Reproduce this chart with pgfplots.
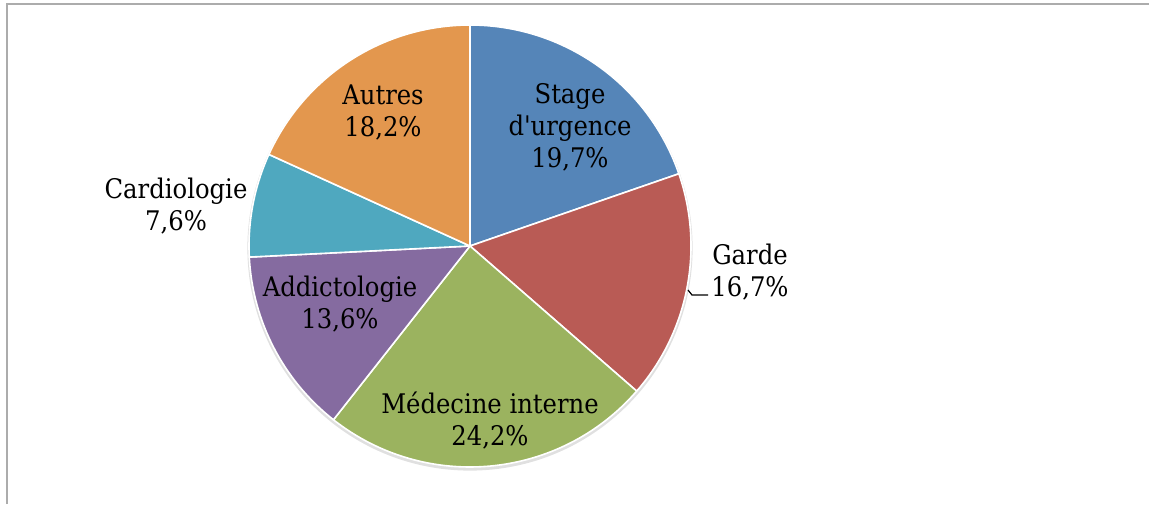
\documentclass[border=0pt]{standalone}
\usepackage{pgfplots}
\pgfplotsset{compat=1.18}
\usepackage{pgfplotstable}
\usepackage{fontspec}
\setmainfont{DejaVu Serif Condensed}
\definecolor{cA}{HTML}{5585B8}
\definecolor{cB}{HTML}{B95B55}
\definecolor{cC}{HTML}{9BB35F}
\definecolor{cD}{HTML}{856BA0}
\definecolor{cE}{HTML}{4FA8BF}
\definecolor{cF}{HTML}{E3974E}
\pgfplotstableread{
pct col
19.7 cA
16.7 cB
24.2 cC
13.6 cD
7.6 cE
18.2 cF
}\piedata
\begin{document}
\begin{tikzpicture}
\begin{axis}[
  hide axis, scale only axis,
  width=574.5pt, height=252pt,
  xmin=0, xmax=1149, ymin=0, ymax=504,
  clip=false,
]
\draw[gray!65, line width=1pt] (axis cs:6.5,0) -- (axis cs:6.5,499.5) -- (axis cs:1149,499.5);
\fill[black, opacity=0.12] (axis cs:470,256) circle[radius=111.3pt];
\def\acc{90}
\pgfplotsforeachungrouped \i in {0,...,5}{%
  \pgfplotstablegetelem{\i}{pct}\of\piedata
  \let\p\pgfplotsretval
  \pgfplotstablegetelem{\i}{col}\of\piedata
  \let\c\pgfplotsretval
  \pgfmathsetmacro\endang{\acc-3.6*\p}%
  \edef\cmd{\noexpand\fill[\c, draw=white, line width=0.8pt, line join=round] (axis cs:470,258) -- ++(\acc:110.5pt) arc[start angle=\acc, end angle=\endang, radius=110.5pt] -- cycle;}%
  \cmd
  \let\acc\endang
}
\draw[black, line width=0.6pt] (axis cs:688,214) -- (axis cs:692,209) -- (axis cs:708,209);
\tikzset{lab/.style={align=center, font=\fontsize{13.5}{16}\selectfont, inner sep=0pt}}
\node[lab] at (axis cs:570,377) {Stage\\d\textquotesingle urgence\\19,7\%};
\node[lab] at (axis cs:750,232) {Garde\\16,7\%};
\node[lab] at (axis cs:490,83) {Médecine interne\\24,2\%};
\node[lab] at (axis cs:340,200) {Addictologie\\13,6\%};
\node[lab] at (axis cs:176,298) {Cardiologie\\7,6\%};
\node[lab] at (axis cs:383,391) {Autres\\18,2\%};
\end{axis}
\pgfresetboundingbox
\path[use as bounding box] (current axis.south west) rectangle (current axis.north east);
\end{tikzpicture}
\end{document}
